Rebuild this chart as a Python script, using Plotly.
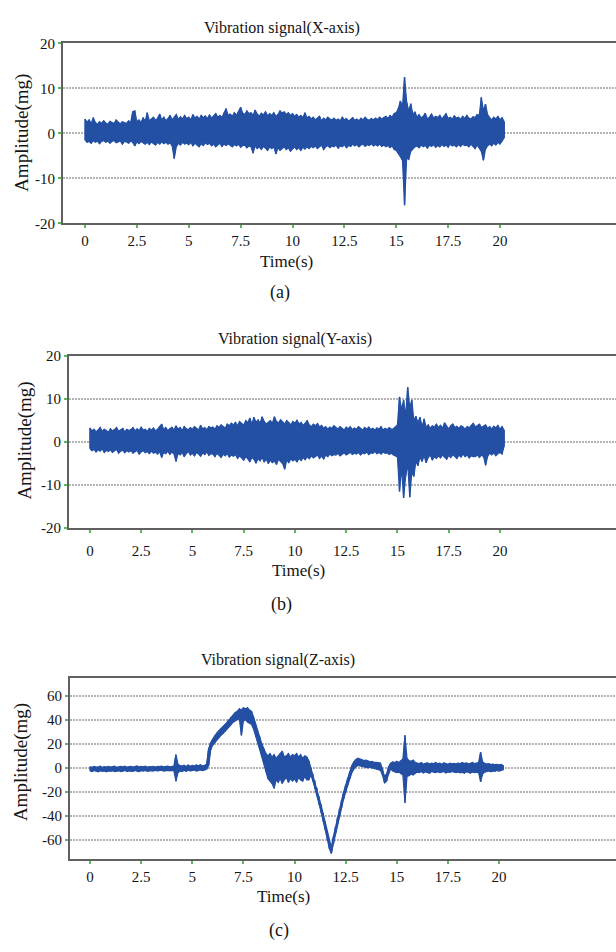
import numpy as np
import plotly.graph_objects as go

# ---------------- data (0.1 s steps, 0 .. 20.2 s) ----------------
SAMPLE_STEP = 0.1

X_UPPER = [3.2, 2.5, 3.0, 2.2, 3.5, 2.4, 2.0, 2.6, 2.2, 2.8,
           2.3, 2.0, 2.7, 2.4, 2.2, 3.0, 2.5, 2.1, 2.6, 2.4,
           2.2, 2.8, 2.4, 4.8, 5.0, 2.6, 3.0, 2.4, 3.5, 2.7,
           4.6, 2.8, 3.2, 3.6, 2.9, 3.4, 4.3, 3.0, 3.6, 2.8,
           3.3, 4.0, 3.0, 3.5, 4.2, 3.1, 3.7, 3.2, 4.0, 3.3,
           3.6, 3.0, 4.2, 3.4, 3.8, 3.2, 4.0, 3.5, 3.9, 3.3,
           4.1, 3.4, 3.8, 4.4, 3.6, 4.0, 3.5, 4.6, 5.5, 4.0,
           4.3, 3.8, 4.6, 4.0, 4.8, 5.8, 4.5, 4.2, 5.0, 4.4,
           4.6, 4.0, 5.2, 4.3, 3.8, 4.5, 4.1, 4.8, 3.9, 4.4,
           4.0, 4.6, 3.8, 4.2, 5.0, 4.5, 4.8, 4.2, 4.6, 4.0,
           4.4, 3.8, 4.2, 3.6, 4.0, 3.5, 4.6, 3.4, 3.8, 3.2,
           3.6, 3.0, 3.4, 3.8, 2.8, 3.4, 3.0, 3.6, 3.2, 3.0,
           3.4, 2.9, 3.2, 2.8, 3.6, 3.0, 3.3, 2.7, 3.1, 3.5,
           2.9, 3.2, 2.8, 3.4, 3.0, 3.6, 3.1, 2.9, 3.3, 3.0,
           3.4, 3.1, 3.6, 3.2, 3.5, 3.8, 3.3, 4.0, 3.6, 4.4,
           4.6, 5.5, 7.2, 6.0, 12.5, 7.0, 5.0, 6.6, 4.2, 4.8,
           3.6, 4.2, 3.4, 3.8, 4.5, 3.2, 3.6, 4.3, 3.4, 3.8,
           3.5, 4.0, 3.2, 3.7, 4.4, 3.3, 3.6, 3.2, 3.9, 3.4,
           3.6, 3.1, 3.8, 3.3, 4.0, 3.4, 3.2, 3.7, 3.5, 4.2,
           4.0, 8.0, 5.0, 6.5, 4.2, 3.5, 3.0, 3.6, 3.2, 3.8,
           3.0, 3.5, 2.6]

X_LOWER = [-1.5, -2.0, -1.8, -2.2, -1.6, -2.0, -1.7, -2.3, -1.8, -1.6,
           -2.0, -1.7, -2.2, -1.8, -1.6, -2.1, -1.9, -1.7, -2.4, -1.8,
           -1.9, -2.2, -1.7, -2.0, -2.8, -1.9, -2.3, -1.8, -2.1, -2.4,
           -2.0, -2.5, -1.9, -2.2, -2.6, -2.0, -2.4, -1.9, -2.3, -2.0,
           -2.4, -2.1, -2.8, -5.6, -3.0, -2.2, -2.6, -2.0, -2.4, -2.2,
           -2.5, -2.0, -2.8, -2.2, -2.6, -3.0, -2.3, -2.7, -2.1, -2.5,
           -2.2, -2.8, -2.4, -3.0, -2.6, -2.2, -2.9, -2.4, -2.7, -2.3,
           -2.6, -3.0, -2.5, -2.8, -2.4, -3.1, -2.7, -2.6, -3.2, -2.8,
           -3.0, -4.4, -2.8, -3.4, -3.0, -3.6, -2.9, -3.3, -3.8, -3.0,
           -3.4, -3.0, -4.6, -3.2, -3.8, -3.4, -3.0, -3.6, -3.2, -4.0,
           -3.4, -3.0, -3.6, -3.2, -3.8, -3.1, -3.5, -3.0, -3.4, -2.9,
           -3.2, -2.8, -3.4, -3.0, -2.6, -3.6, -3.0, -2.7, -3.2, -2.8,
           -3.0, -2.6, -3.3, -2.8, -3.0, -2.5, -3.2, -2.7, -2.9, -2.4,
           -2.8, -2.5, -3.0, -2.6, -2.4, -2.9, -2.5, -2.7, -2.3, -2.8,
           -2.5, -2.8, -2.4, -2.9, -2.6, -3.0, -2.7, -3.2, -2.8, -3.6,
           -3.8, -4.5, -5.2, -6.0, -16.0, -5.5, -5.8, -4.0, -3.4, -3.0,
           -2.8, -3.2, -2.6, -3.0, -2.7, -3.3, -2.6, -2.9, -2.5, -3.1,
           -2.7, -3.0, -2.5, -2.9, -2.6, -3.1, -2.4, -2.8, -2.6, -3.0,
           -2.5, -2.9, -2.4, -2.7, -2.6, -3.0, -2.4, -2.8, -3.4, -2.6,
           -3.2, -4.0, -6.0, -3.5, -2.8, -2.4, -2.8, -2.2, -2.6, -2.0,
           -2.4, -1.8, -1.0]

Y_UPPER = [3.3, 2.6, 3.0, 2.4, 2.8, 3.4, 2.5, 3.0, 2.7, 2.3,
           3.1, 2.6, 2.9, 3.4, 2.5, 2.8, 3.2, 2.4, 3.0, 2.7,
           2.9, 3.4, 2.6, 3.1, 2.7, 3.5, 2.8, 3.0, 2.5, 3.2,
           2.8, 3.3, 2.6, 3.0, 3.6, 4.2, 2.9, 3.4, 2.7, 3.2,
           3.5, 2.8, 3.8, 3.0, 3.4, 2.7, 3.6, 3.1, 2.9, 3.4,
           3.0, 3.6, 3.2, 2.8, 3.9, 3.1, 3.4, 2.9, 3.6, 3.3,
           3.5, 3.0, 3.8, 3.4, 4.0, 3.6, 3.2, 4.2, 3.8, 4.4,
           4.0, 4.6, 3.8, 4.8, 4.4, 3.9, 5.0, 4.5, 5.6, 4.2,
           5.8, 4.6, 5.2, 4.4, 5.9, 4.8, 4.2, 4.6, 5.0, 4.4,
           5.9, 4.8, 4.5, 5.2, 4.6, 4.2, 5.0, 4.6, 4.0, 4.8,
           4.4, 5.1, 4.2, 4.6, 3.9, 4.4, 5.0, 4.0, 3.6, 4.2,
           3.8, 4.3, 3.5, 3.9, 3.2, 3.6, 3.0, 3.5, 3.2, 3.8,
           3.4, 3.0, 3.6, 3.2, 2.8, 3.5, 3.1, 3.6, 2.9, 3.3,
           3.0, 3.6, 3.2, 2.8, 3.4, 3.0, 3.5, 2.9, 3.2, 2.8,
           3.3, 3.0, 3.6, 2.8, 3.2, 2.9, 3.4, 3.0, 3.1, 3.5,
           4.0, 10.5, 7.5, 9.8, 6.0, 12.8, 8.0, 9.8, 5.0, 6.0,
           4.5, 5.8, 3.6, 5.4, 3.4, 4.0, 3.2, 3.8, 3.5, 4.2,
           3.4, 3.9, 3.2, 4.5, 3.6, 3.0, 3.8, 4.2, 3.4, 3.7,
           3.2, 3.8, 3.5, 3.0, 3.6, 3.3, 3.9, 4.4, 3.5, 3.8,
           4.2, 3.4, 3.8, 4.0, 3.2, 3.6, 3.0, 3.7, 3.3, 3.9,
           3.0, 3.6, 2.8]

Y_LOWER = [-1.5, -2.0, -1.7, -2.3, -1.8, -2.1, -1.6, -2.4, -1.9, -2.2,
           -1.8, -2.4, -2.0, -1.7, -2.6, -2.1, -1.9, -2.5, -2.0, -2.3,
           -2.0, -2.6, -2.2, -1.9, -2.8, -2.3, -2.0, -2.5, -2.2, -2.7,
           -2.1, -2.6, -2.3, -2.8, -2.2, -3.6, -2.4, -2.7, -2.1, -2.9,
           -2.3, -2.8, -4.5, -2.6, -3.0, -2.4, -3.4, -2.7, -2.2, -3.0,
           -2.6, -3.2, -2.4, -2.8, -3.3, -2.5, -2.9, -2.3, -3.1, -2.7,
           -2.8, -3.4, -2.6, -3.0, -3.6, -2.8, -3.2, -2.7, -3.5, -3.0,
           -3.3, -2.9, -3.8, -3.2, -3.6, -4.2, -3.4, -3.9, -4.6, -3.6,
           -4.0, -4.9, -3.8, -4.4, -3.6, -4.6, -4.0, -5.0, -4.2, -4.8,
           -4.4, -5.2, -4.0, -4.6, -5.0, -6.3, -4.2, -4.8, -3.9, -4.4,
           -4.0, -4.6, -3.8, -4.3, -3.6, -4.1, -3.4, -3.9, -3.2, -3.7,
           -3.4, -3.0, -3.8, -3.2, -4.0, -3.0, -3.4, -2.8, -3.2, -2.9,
           -3.0, -2.6, -3.2, -2.8, -2.5, -3.0, -2.7, -2.4, -2.9, -2.6,
           -2.8, -2.4, -3.0, -2.5, -2.7, -2.3, -2.9, -2.5, -2.6, -2.2,
           -2.7, -2.4, -2.8, -2.3, -2.6, -2.5, -2.9, -2.6, -3.0, -3.2,
           -3.5, -11.5, -6.0, -13.0, -8.0, -5.0, -12.8, -7.0, -8.0, -4.5,
           -5.5, -3.5, -4.5, -3.2, -4.8, -3.6, -3.0, -4.2, -3.4, -3.8,
           -3.2, -3.7, -3.0, -3.5, -4.0, -3.1, -3.6, -2.9, -3.4, -3.8,
           -3.0, -3.5, -2.8, -3.4, -3.0, -3.7, -3.2, -3.4, -3.4, -3.0,
           -3.6, -3.0, -3.4, -5.4, -3.3, -2.6, -3.0, -2.5, -3.2, -2.7,
           -2.4, -2.8, -1.0]

Z_UPPER = [1.0, 0.5, 1.2, 0.6, 0.8, 1.5, 0.4, 1.0, 0.7, 1.2,
           0.6, 1.0, 1.4, 0.5, 0.9, 1.2, 0.8, 1.5, 0.6, 1.0,
           1.3, 0.7, 1.0, 1.6, 0.8, 1.2, 0.9, 1.4, 0.6, 1.1,
           0.9, 1.3, 0.7, 1.2, 1.0, 1.5, 0.8, 1.1, 1.4, 0.9,
           1.2, 1.6, 11.0, 3.0, 2.0, 1.5, 2.2, 1.2, 2.5, 1.4,
           2.0, 1.5, 2.4, 1.8, 2.6, 1.6, 2.2, 3.0, 16.0, 21.0,
           24.0, 27.0, 29.0, 31.0, 32.5, 34.0, 36.0, 38.0, 40.0, 42.0,
           44.0, 46.0, 47.0, 49.0, 48.0, 50.0, 49.0, 50.0, 48.0, 47.0,
           42.0, 36.0, 30.0, 26.0, 20.0, 16.0, 12.0, 10.0, 12.0, 9.0,
           11.0, 8.0, 10.0, 12.0, 14.0, 9.0, 10.0, 12.0, 9.0, 11.0,
           10.0, 12.0, 9.0, 11.0, 8.0, 10.0, 9.0, 6.0, 0.0, -5.0,
           -11.0, -17.0, -24.0, -31.0, -38.0, -45.0, -53.0, -61.0, -66.0, -57.0,
           -49.0, -41.0, -34.0, -27.0, -20.0, -14.0, -8.0, -3.0, 2.0, 5.0,
           7.0, 8.0, 7.5, 7.0, 6.0, 6.5, 5.5, 5.0, 5.5, 4.5,
           4.5, 4.0, 4.0, -1.0, -7.0, -5.0, 1.0, 4.0, 5.0, 4.5,
           5.5, 4.5, 6.0, 7.5, 27.0, 8.0, 6.0, 5.5, 6.5, 4.5,
           4.0, 3.5, 4.5, 3.0, 3.8, 4.2, 3.2, 4.0, 3.5, 4.5,
           3.5, 4.0, 3.0, 4.2, 3.6, 3.0, 4.0, 3.4, 3.8, 3.2,
           4.0, 3.5, 4.5, 3.6, 4.2, 3.4, 3.8, 4.5, 3.6, 4.0,
           4.5, 13.0, 5.0, 3.8, 3.2, 3.6, 2.8, 3.2, 2.6, 3.0,
           2.5, 3.0, 2.0]

Z_LOWER = [-2.5, -3.0, -2.2, -2.8, -3.2, -2.4, -2.9, -2.6, -3.3, -2.5,
           -2.8, -2.3, -3.0, -2.6, -2.4, -3.1, -2.7, -2.2, -2.9, -2.5,
           -2.4, -2.9, -2.2, -2.7, -3.0, -2.3, -2.6, -2.1, -2.8, -2.4,
           -2.2, -2.6, -2.0, -2.5, -2.3, -1.9, -2.6, -2.2, -2.0, -2.4,
           -2.1, -2.5, -11.0, -4.0, -2.6, -3.0, -2.2, -2.8, -1.9, -2.5,
           -2.2, -1.8, -2.6, -2.0, -1.6, -2.3, -1.8, -1.2, 2.0, 15.0,
           19.0, 21.0, 23.0, 25.0, 27.0, 28.5, 30.0, 32.0, 34.0, 36.0,
           38.0, 39.0, 40.0, 41.0, 27.0, 39.0, 40.0, 38.0, 37.0, 36.0,
           32.0, 26.0, 21.0, 15.0, 9.0, 4.0, -3.0, -9.0, -11.0, -13.0,
           -17.0, -10.0, -12.0, -9.0, -13.0, -10.0, -8.0, -12.0, -9.0, -11.0,
           -9.0, -12.0, -8.0, -10.0, -11.0, -7.0, -10.0, -10.0, -6.0, -11.0,
           -17.0, -23.0, -30.0, -37.0, -44.0, -51.0, -59.0, -67.0, -71.0, -63.0,
           -55.0, -47.0, -40.0, -33.0, -26.0, -20.0, -14.0, -9.0, -4.0, -1.0,
           1.0, 2.0, 2.0, 1.5, 1.0, 0.5, 0.0, 0.5, -0.5, -1.0,
           -1.0, -1.5, -2.0, -6.0, -12.5, -11.0, -5.0, -1.0, -2.5, -3.5,
           -4.0, -3.5, -5.0, -6.0, -29.0, -7.0, -6.5, -5.0, -6.0, -4.5,
           -3.5, -4.0, -3.0, -4.2, -3.2, -3.8, -4.5, -3.0, -3.6, -4.0,
           -3.2, -4.0, -3.5, -3.0, -4.2, -3.4, -3.8, -3.0, -3.6, -4.0,
           -3.4, -4.2, -3.6, -4.5, -3.2, -3.8, -4.4, -3.4, -4.0, -3.5,
           -4.0, -11.5, -5.0, -3.5, -3.0, -2.6, -3.2, -2.5, -2.8, -2.2,
           -2.6, -2.0, -1.5]

TITLES = ["Vibration signal(X-axis)", "Vibration signal(Y-axis)", "Vibration signal(Z-axis)"]
CAPTIONS = ["(a)", "(b)", "(c)"]
X_TICKS = [0, 2.5, 5, 7.5, 10, 12.5, 15, 17.5, 20]
X_TICK_LABELS = ["0", "2.5", "5", "7.5", "10", "12.5", "15", "17.5", "20"]
Y_TICKS_XY = [-20, -10, 0, 10, 20]
Y_TICK_LABELS_XY = ["-20", "-10", "0", "10", "20"]
Y_TICKS_Z = [-60, -40, -20, 0, 20, 40, 60]
Y_TICK_LABELS_Z = ["-60", "-40", "-20", "0", "20", "40", "60"]

# ---------------- layout geometry ----------------
W, H = 616, 952
LINE_COLOR = "#2450a4"
FONT = "Liberation Serif, Times New Roman, serif"
TEXT_COLOR = "#141414"

panels = [
    dict(up=X_UPPER, lo=X_LOWER, left=63, top=36, bottom=219, xr=[-1.06, 25.59], yr=[-20, 20],
         yt=Y_TICKS_XY, ytl=Y_TICK_LABELS_XY, standoff=0,
         title=(282, 20), ytitle=(22, 127), xtitle=(286, 258), cap=(280, 289)),
    dict(up=Y_UPPER, lo=Y_LOWER, left=69, top=354, bottom=529, xr=[-1.02, 25.66], yr=[-20, 20],
         yt=Y_TICKS_XY, ytl=Y_TICK_LABELS_XY, standoff=5,
         title=(295, 337), ytitle=(25, 440), xtitle=(298, 572), cap=(281, 607)),
    dict(up=Z_UPPER, lo=Z_LOWER, left=70, top=681, bottom=866, xr=[-0.98, 25.72], yr=[-76, 75],
         yt=Y_TICKS_Z, ytl=Y_TICK_LABELS_Z, standoff=0,
         title=(278, 663), ytitle=(21, 767), xtitle=(283, 904), cap=(279, 938)),
]

fig = go.Figure()
annotations = []
layout_axes = {}

for i, p in enumerate(panels, start=1):
    up = np.array(p["up"])
    lo = np.array(p["lo"])
    n = len(up)
    t = np.round(np.arange(n) * SAMPLE_STEP, 2)
    xa = "x" if i == 1 else f"x{i}"
    ya = "y" if i == 1 else f"y{i}"
    fig.add_trace(go.Scatter(x=np.concatenate([t, t[::-1]]), y=np.concatenate([up, lo[::-1]]),
                             mode="lines", fill="toself", fillcolor=LINE_COLOR,
                             line=dict(color=LINE_COLOR, width=1.2),
                             xaxis=xa, yaxis=ya, showlegend=False, hoverinfo="skip"))
    fig.add_trace(go.Scatter(x=np.repeat(t, 2), y=np.column_stack([up, lo]).ravel(),
                             mode="lines", line=dict(color=LINE_COLOR, width=1.4),
                             xaxis=xa, yaxis=ya, showlegend=False, hoverinfo="skip"))
    xkey = "xaxis" if i == 1 else f"xaxis{i}"
    ykey = "yaxis" if i == 1 else f"yaxis{i}"
    layout_axes[xkey] = dict(
        domain=[p["left"] / W, 1.0], anchor=ya, range=p["xr"],
        tickmode="array", tickvals=X_TICKS, ticktext=X_TICK_LABELS,
        showgrid=False, zeroline=False, showline=True, mirror=True,
        linecolor="#606060", linewidth=2,
        ticks="outside", ticklen=3, tickwidth=1.5, tickcolor="#5cb85c",
        ticklabelstandoff=p["standoff"],
        tickfont=dict(family=FONT, size=15, color=TEXT_COLOR),
    )
    layout_axes[ykey] = dict(
        domain=[1 - p["bottom"] / H, 1 - p["top"] / H], anchor=xa, range=p["yr"],
        tickmode="array", tickvals=p["yt"], ticktext=p["ytl"],
        showgrid=True, gridcolor="#b4b4b4", gridwidth=2, griddash="2px,1px",
        zeroline=False, showline=True, mirror=False,
        linecolor="#606060", linewidth=2,
        ticks="outside", ticklen=3, tickwidth=1.5, tickcolor="#5cb85c",
        tickfont=dict(family=FONT, size=15, color=TEXT_COLOR),
    )
    tx, ty = p["title"]
    annotations.append(dict(text=TITLES[i - 1], x=tx / W, y=1 - ty / H, xref="paper", yref="paper",
                            showarrow=False, xanchor="center", yanchor="middle",
                            font=dict(family=FONT, size=16, color=TEXT_COLOR)))
    yx, yy = p["ytitle"]
    annotations.append(dict(text="Amplitude(mg)", x=yx / W, y=1 - yy / H, xref="paper", yref="paper",
                            showarrow=False, xanchor="center", yanchor="middle", textangle=-90,
                            font=dict(family=FONT, size=19, color=TEXT_COLOR)))
    xx, xy = p["xtitle"]
    annotations.append(dict(text="Time(s)", x=xx / W, y=1 - xy / H, xref="paper", yref="paper",
                            showarrow=False, xanchor="center", yanchor="middle",
                            font=dict(family=FONT, size=17, color=TEXT_COLOR)))
    cx, cy = p["cap"]
    annotations.append(dict(text=CAPTIONS[i - 1], x=cx / W, y=1 - cy / H, xref="paper", yref="paper",
                            showarrow=False, xanchor="center", yanchor="middle",
                            font=dict(family=FONT, size=18, color=TEXT_COLOR)))

fig.update_layout(
    width=W, height=H,
    margin=dict(l=0, r=0, t=0, b=0),
    paper_bgcolor="white", plot_bgcolor="white",
    annotations=annotations,
    **layout_axes,
)

PAGE_FIX = (
    "document.documentElement.style.margin='0';document.documentElement.style.padding='0';"
    "document.documentElement.style.overflow='hidden';"
    "document.body.style.margin='0';document.body.style.padding='0';document.body.style.overflow='hidden';"
    "var g=document.querySelector('.plotly-graph-div');"
    "if(g){g.style.position='fixed';g.style.top='0';g.style.left='0';}"
)
fig.write_html("out.html", config={"displayModeBar": False}, post_script=PAGE_FIX)
